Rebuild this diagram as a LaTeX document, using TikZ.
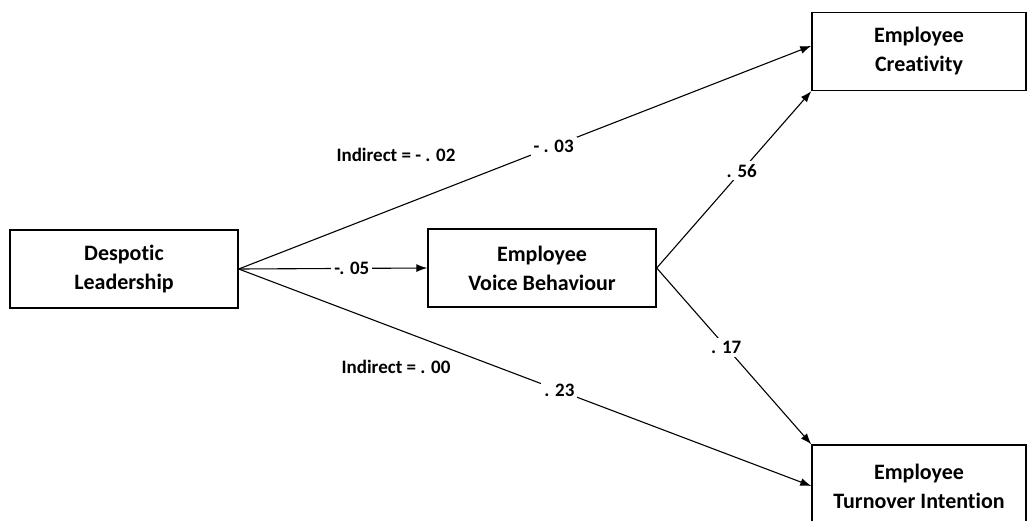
\documentclass[tikz,border=0pt]{standalone}
\usepackage{fontspec}
\setmainfont{Carlito}[Ligatures=NoCommon]
\usetikzlibrary{arrows.meta}
\begin{document}
\begin{tikzpicture}[x=1pt,y=-1pt,
		varbox/.style={draw,line width=1.4pt,minimum width=#1,minimum height=78pt,align=center,
			font=\fontsize{22}{29}\selectfont\bfseries},
		varbox/.default=228pt,
		path/.style={line width=1.1pt,-{Latex[length=11pt,width=8pt]}},
		coef/.style={fill=white,inner sep=3pt,font=\fontsize{19}{22}\selectfont\bfseries},
		note/.style={font=\fontsize{19}{22}\selectfont\bfseries}]
		\useasboundingbox (0,0) rectangle (1028,520);

		\node[varbox] (dl) at (124,269) {Despotic\\Leadership};
		\node[varbox] (ev) at (542,268) {Employee\\Voice Behaviour};
		\node[varbox=214pt] (ec) at (919,51.5) {Employee\\Creativity};
		\node[varbox=214pt,minimum height=82pt] (et) at (919,486) {Employee\\Turnover Intention};

		\node[note] (ind1) at (396,155) {Indirect = - . 02};
		\node[note] (ind2) at (396,367) {Indirect = . 00};

		\draw[path] (dl.east) -- node[coef,pos=0.55] {- . 03} (ec.177);
		\draw[path] (dl.east) -- node[coef,pos=0.6] {-. 05} (ev.west);
		\draw[path] (dl.east) -- node[coef,pos=0.56] {. 23} (et.west);
		\draw[path] (ev.east) -- node[coef,pos=0.55] {. 56} (ec.south west);
		\draw[path] (ev.east) -- node[coef,pos=0.45] {. 17} (et.north west);
	\end{tikzpicture}
\end{document}
